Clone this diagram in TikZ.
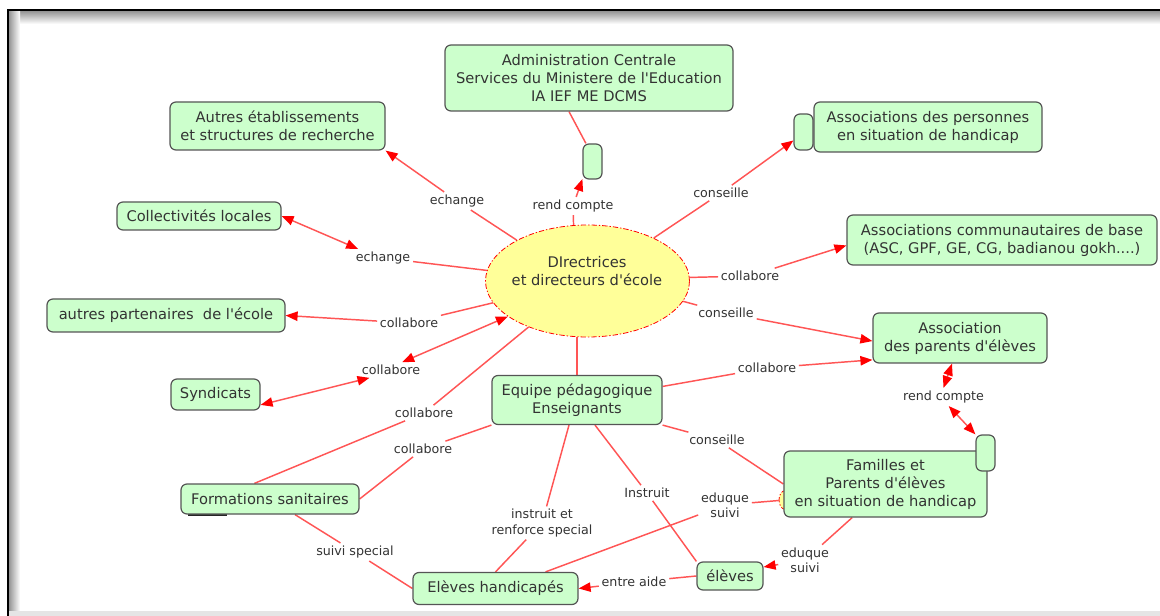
\documentclass[tikz,border=0pt]{standalone}
\usepackage{fontspec}
\setmainfont[Ligatures=TeXOff]{DejaVu Sans}
\usetikzlibrary{arrows.meta,shapes.geometric,backgrounds,calc}
\definecolor{boxfill}{RGB}{204,255,204}
\definecolor{boxline}{RGB}{85,85,85}
\definecolor{txt}{RGB}{51,51,51}
\definecolor{elfill}{RGB}{255,255,153}
\definecolor{lnk}{RGB}{255,85,85}
\definecolor{tipred}{RGB}{255,0,0}
\begin{document}
\begin{tikzpicture}[x=0.75pt,y=-0.75pt,
  concept/.style={draw=boxline, fill=boxfill, line width=0.9pt, rounded corners=4.5pt, text=txt, align=center, inner sep=0pt, font=\fontsize{11}{13.5}\selectfont},
  linkph/.style={text=txt, align=center, inner sep=2pt, font=\fontsize{9.5}{11.3}\selectfont},
  conn/.style={draw=lnk, line width=1.1pt},
  tip/.style={-{Triangle[length=9pt,width=7pt,color=tipred]}},
  tips/.style={{Triangle[length=9pt,width=7pt,color=tipred]}-{Triangle[length=9pt,width=7pt,color=tipred]}},
  dotnode/.style={ellipse, draw=red, fill=elfill, line width=0.6pt, dash pattern=on 4pt off 1.5pt on 1pt off 1.5pt, inner sep=0pt}
]
\useasboundingbox (0,0) rectangle (1160,616);

% central concept
\node[dotnode, minimum width=153pt, minimum height=84pt] (dir) at (587.5,281) {};
\node[text=txt, align=center, font=\fontsize{11}{13.5}\selectfont] (dirtxt) at (587,271) {DIrectrices\\et directeurs d'école};

% concepts
\node[concept, minimum width=216pt, minimum height=49.5pt] (admin) at (589,78) {Administration Centrale\\Services du Ministere de l'Education\\IA IEF ME DCMS};
\node[concept, minimum width=14.25pt, minimum height=26.25pt] (adminsmall) at (592.5,161.5) {};
\node[concept, minimum width=161.25pt, minimum height=36pt] (autres) at (277.5,126) {Autres établissements\\et structures de recherche};
\node[concept, minimum width=123pt, minimum height=21pt] (collect) at (199,216) {Collectivités locales};
\node[concept, minimum width=178.5pt, minimum height=24.75pt] (partenaires) at (166,315.5) {autres partenaires\ \ de l'école};
\node[concept, minimum width=66.75pt, minimum height=23.25pt] (syndicats) at (215.5,394.5) {Syndicats};
\node[concept, minimum width=133.5pt, minimum height=22.5pt] (formations) at (270,499) {Formations sanitaires};
\node[concept, minimum width=123.75pt, minimum height=24pt] (elevesh) at (495.5,588.5) {Elèves handicapés};
\node[concept, minimum width=49.5pt, minimum height=21pt] (eleves) at (730,576) {élèves};
\node[dotnode, minimum width=9pt, minimum height=14pt] (famdot) at (785,500) {};
\node[concept, minimum width=152.25pt, minimum height=49.5pt] (familles) at (885.5,484) {Familles et\\Parents d'élèves\\en situation de handicap};
\node[concept, minimum width=14.25pt, minimum height=27pt] (famsmall) at (985.5,453) {};
\node[concept, minimum width=130.5pt, minimum height=37.5pt] (assparents) at (960,338) {Association\\des parents d'élèves};
\node[concept, minimum width=232.5pt, minimum height=37.5pt] (asscomm) at (1002,240) {Associations communautaires de base\\(ASC, GPF, GE, CG, badianou gokh....)};
\node[concept, minimum width=171pt, minimum height=37.5pt] (asspers) at (928,127) {Associations des personnes\\en situation de handicap};
\node[concept, minimum width=14.25pt, minimum height=27pt] (perssmall) at (803.5,132) {};
\node[concept, minimum width=127.5pt, minimum height=36.75pt] (equipe) at (577,400) {Equipe pédagogique\\Enseignants};

% linking phrases
\node[linkph] (l1) at (457,201) {echange};
\node[linkph] (l2) at (573,206) {rend compte};
\node[linkph] (l3) at (721,193) {conseille};
\node[linkph] (l4) at (383,258) {echange};
\node[linkph] (l5) at (750,276) {collabore};
\node[linkph] (l6) at (726,313) {conseille};
\node[linkph] (l7) at (409,323) {collabore};
\node[linkph] (l8) at (391,370) {collabore};
\node[linkph] (l9) at (424,413) {collabore};
\node[linkph] (l10) at (423,449) {collabore};
\node[linkph] (l11) at (767,368) {collabore};
\node[linkph] (l12) at (717,440) {conseille};
\node[linkph] (l13) at (943.5,397) {rend compte};
\node[linkph] (l14) at (542,523) {instruit et\\renforce special};
\node[linkph] (l15) at (647,493) {Instruit};
\node[linkph] (l16) at (725,505) {eduque\\suivi};
\node[linkph] (l17) at (805,560) {eduque\\suivi};
\node[linkph] (l18) at (634,582) {entre aide};
\node[linkph] (l19) at (355,552) {suivi special};

\begin{pgfonlayer}{background}
  % frame
  \fill[white] (0,0) rectangle (1160,616);
  \shade[top color=black!45, bottom color=white] (8,10) rectangle (1160,24);
  \shade[left color=black!45, right color=white] (8,10) rectangle (20,616);
  \fill[black!10] (8,611) rectangle (1160,616);
  \draw[line width=1.5pt, black] (8,616) -- (8,10) -- (1160,10);
  % artifact under Formations sanitaires
  \draw[line width=1.6pt, black!85] ([xshift=6pt,yshift=-0.6pt]formations.south west) -- ++(39,0);

  % connectors
  \draw[conn] (dir.150) -- (l1);
  \draw[conn,tip] (l1) -- (autres.south east);
  \draw[conn] (dir.104) -- (l2);
  \draw[conn,tip] (l2) -- (adminsmall.240);
  \draw[conn] (adminsmall.110) -- ([xshift=-15pt]admin.south);
  \draw[conn] (dir.33) -- (l3);
  \draw[conn,tip] (l3) -- (perssmall.220);
  \draw[conn] (dir.174) -- (l4);
  \draw[conn,tips] (l4.160) -- (collect.east);
  \draw[conn] (dir.2) -- (l5);
  \draw[conn,tip] (l5) -- (asscomm.182);
  \draw[conn] (dir.348) -- (l6);
  \draw[conn,tip] (l6) -- (assparents.182);
  \draw[conn] (dir.193) -- (l7);
  \draw[conn,tip] (l7) -- (partenaires.east);
  \draw[conn,tips] (l8.35) -- (dir.204);
  \draw[conn,tips] (l8.200) -- (syndicats.347);
  \draw[conn] (dir.218) -- (l9);
  \draw[conn] (l9) -- (formations.135);
  \draw[conn] (equipe.north) -- (equipe.north |- dir.south);
  \draw[conn] (equipe.south west) -- (l10);
  \draw[conn] (l10) -- (formations.east);
  \draw[conn] (equipe.9) -- (l11);
  \draw[conn,tip] (l11) -- (assparents.194);
  \draw[conn] (equipe.south east) -- (l12);
  \draw[conn] (l12) -- (familles.west);
  \draw[conn,tips] (l13.north) -- ([xshift=-6pt]assparents.south);
  \draw[conn,tips] (l13.-60) -- (famsmall.north west);
  \draw[conn] ([xshift=-6pt]equipe.south) -- (l14);
  \draw[conn] (l14) -- (elevesh.north);
  \draw[conn] ([xshift=13.5pt]equipe.south) -- (l15);
  \draw[conn] (l15) -- (eleves.north west);
  \draw[conn] (famdot) -- (l16);
  \draw[conn] (l16) -- ([xshift=37.5pt]elevesh.north);
  \draw[conn] ([xshift=-25pt]familles.south) -- (l17);
  \draw[conn,tip] (l17) -- (eleves.15);
  \draw[conn] (eleves.west) -- (l18);
  \draw[conn,tip] (l18) -- (elevesh.east);
  \draw[conn] ([xshift=18.75pt]formations.south) -- (l19);
  \draw[conn] (l19) -- (elevesh.west);
\end{pgfonlayer}
\end{tikzpicture}
\end{document}
